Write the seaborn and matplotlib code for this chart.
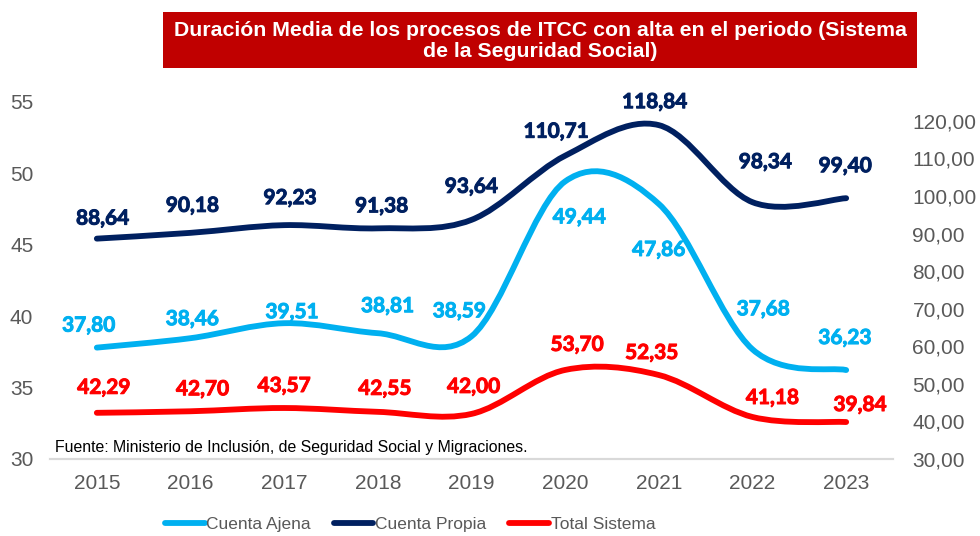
import numpy as np
import seaborn as sns
import matplotlib.pyplot as plt
import matplotlib.patheffects as pe
from matplotlib.path import Path
from matplotlib.patches import PathPatch, Rectangle
from matplotlib.lines import Line2D

# ------------------------------------------------------------------
# Datos
# ------------------------------------------------------------------
YEARS = ["2015", "2016", "2017", "2018", "2019", "2020", "2021", "2022", "2023"]
CUENTA_AJENA = [37.80, 38.46, 39.51, 38.81, 38.59, 49.44, 47.86, 37.68, 36.23]
CUENTA_PROPIA = [88.64, 90.18, 92.23, 91.38, 93.64, 110.71, 118.84, 98.34, 99.40]
TOTAL_SISTEMA = [42.29, 42.70, 43.57, 42.55, 42.00, 53.70, 52.35, 41.18, 39.84]

LEFT_TICKS = [30, 35, 40, 45, 50, 55]
RIGHT_TICKS = [30, 40, 50, 60, 70, 80, 90, 100, 110, 120]

TITLE = "Duración Media de los procesos de ITCC con alta en el periodo (Sistema\nde la Seguridad Social)"
FUENTE = "Fuente: Ministerio de Inclusión, de Seguridad Social y Migraciones."

# colores
C_AJENA = "#00B0F0"
C_PROPIA = "#002060"
C_TOTAL = "#FF0000"
GRIS = "#595959"

# desplazamiento de las etiquetas (pixeles)
OFF_AJENA = [(-8, 22), (2, 19), (8, 11), (10, 27), (-12, 25), (14, -36), (0, -46), (11, 40), (-1, 32)]
OFF_PROPIA = [(6, 20), (2, 27), (6, 27), (4, 22), (0, 33), (-9, 24), (-4, 23), (13, 40), (-1, 32)]
OFF_TOTAL = [(7, 25), (12, 22), (0, 22), (7, 23), (2, 27), (12, 25), (-7, 22), (20, 19), (14, 17)]

sns.set_theme(style="white")
plt.rcParams['font.family'] = ['Liberation Sans', 'DejaVu Sans']


def smooth_path(x, y):
    # curva suavizada tipo Excel (Bezier Catmull-Rom)
    n = len(x)
    verts = [(x[0], y[0])]
    codes = [Path.MOVETO]
    for i in range(n - 1):
        xp, yp = (x[i - 1], y[i - 1]) if i > 0 else (x[i], y[i])
        xn, yn = (x[i + 2], y[i + 2]) if i + 2 < n else (x[i + 1], y[i + 1])
        c1 = (x[i] + (x[i + 1] - xp) / 6, y[i] + (y[i + 1] - yp) / 6)
        c2 = (x[i + 1] - (xn - x[i]) / 6, y[i + 1] - (yn - y[i]) / 6)
        verts += [c1, c2, (x[i + 1], y[i + 1])]
        codes += [Path.CURVE4] * 3
    return Path(verts, codes)


def draw_series(ax, values, color, offsets):
    xs = np.arange(len(values))
    patch = PathPatch(smooth_path(xs, values), fill=False, edgecolor=color,
                      linewidth=4.2, capstyle='round', joinstyle='round')
    ax.add_patch(patch)
    for i, v in enumerate(values):
        dx, dy = offsets[i]
        ax.annotate(f"{v:.2f}".replace('.', ','), (i, v), xytext=(dx, dy),
                    textcoords='offset pixels', ha='center', va='center',
                    color=color, fontsize=15, fontweight='bold',
                    family=['Lato', 'DejaVu Sans'],
                    path_effects=[pe.withStroke(linewidth=0.7, foreground=color)])


fig = plt.figure(figsize=(9.8, 5.36), dpi=100)
ax = fig.add_axes([50 / 980, 1 - 459 / 536, (893 - 50) / 980, (459 - 102) / 536])
ax2 = ax.twinx()

draw_series(ax, CUENTA_AJENA, C_AJENA, OFF_AJENA)
draw_series(ax2, CUENTA_PROPIA, C_PROPIA, OFF_PROPIA)
draw_series(ax2, TOTAL_SISTEMA, C_TOTAL, OFF_TOTAL)

ax.set_xlim(-0.5, len(YEARS) - 0.5)
ax.set_ylim(30, 55)
ax2.set_ylim(30, 125)

ax.set_xticks(range(len(YEARS)))
ax.set_xticklabels(YEARS)
ax.set_yticks(LEFT_TICKS)
ax.set_yticklabels([str(t) for t in LEFT_TICKS])
ax2.set_yticks(RIGHT_TICKS)
ax2.set_yticklabels([f"{t:.2f}".replace('.', ',') for t in RIGHT_TICKS])

ax.tick_params(axis='x', length=0, pad=11, labelsize=15, labelcolor=GRIS)
ax.tick_params(axis='y', length=0, pad=12, labelsize=15, labelcolor=GRIS)
ax2.tick_params(axis='y', length=0, pad=14, labelsize=15, labelcolor=GRIS)

for a in (ax, ax2):
    for side in ("top", "left", "right"):
        a.spines[side].set_visible(False)
    a.spines["bottom"].set_color("#D9D9D9")
    a.spines["bottom"].set_linewidth(1.5)
    a.grid(False)

ax.text(5 / 843, 0.012, FUENTE, transform=ax.transAxes,
        fontsize=11.4, color="black", ha='left', va='bottom')

# caja del titulo
fig.patches.append(Rectangle((163 / 980, 1 - 68 / 536), (917 - 163) / 980, 56 / 536,
                             transform=fig.transFigure, facecolor="#C00000",
                             edgecolor='none', zorder=0))
fig.text(540 / 980, 1 - 41 / 536, TITLE, ha='center', va='center', color='white',
         fontsize=15.3, fontweight='bold', linespacing=1.1)

handles = [Line2D([], [], color=c, linewidth=4.2, solid_capstyle='round')
           for c in (C_AJENA, C_PROPIA, C_TOTAL)]
leg = fig.legend(handles, ["Cuenta Ajena", "Cuenta Propia", "Total Sistema"],
                 loc='center', bbox_to_anchor=(410 / 980, 1 - 524 / 536), ncol=3,
                 frameon=False, fontsize=12.5, handlelength=2.3, handletextpad=0.1,
                 columnspacing=1.3)
for t in leg.get_texts():
    t.set_color(GRIS)

fig.savefig("out.png", dpi=100)
